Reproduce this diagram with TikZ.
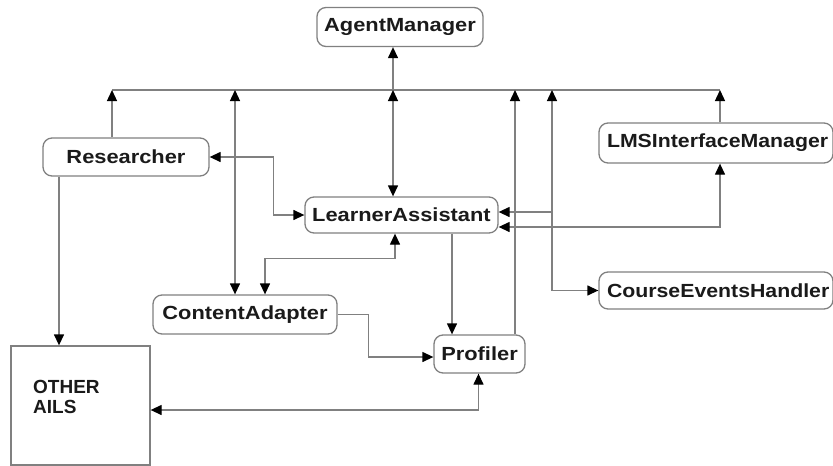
\documentclass[tikz,border=0pt]{standalone}
\usepackage{fontspec}
\setmainfont{Liberation Sans}
\newfontfamily\boxfont{Liberation Sans}[FakeStretch=1.15]
\newfontfamily\edgefont{Liberation Sans}[FakeStretch=1.12]
\usetikzlibrary{arrows.meta,calc}
\definecolor{ln}{HTML}{808080}
\definecolor{tx}{HTML}{1A1A1A}
\tikzset{
  box/.style={draw=ln, line width=1.3pt, rounded corners=9pt, inner sep=0pt, text=tx, font=\boxfont\bfseries\fontsize{19}{22}\selectfont},
  leftbox/.style={box, align=left, text width=#1, inner xsep=8pt, font=\edgefont\bfseries\fontsize{19}{22}\selectfont},
  sqbox/.style={draw=ln, line width=1.3pt, inner sep=0pt},
  plain/.style={inner sep=0pt, text=tx, font=\bfseries\fontsize{19}{22}\selectfont},
  wire/.style={draw=ln, line width=1.3pt},
}
\begin{document}
\begin{tikzpicture}[x=1pt,y=-1pt,>={Triangle[length=11pt,width=10pt,color=black]}]
\useasboundingbox (0,0) rectangle (833,466);
% nodes
\node[box, minimum width=166pt, minimum height=39pt] (am) at (400,27) {AgentManager};
\node[box, minimum width=166pt, minimum height=38pt] (res) at (126,157) {Researcher};
\node[box, minimum width=193pt, minimum height=36pt] (la) at (401.5,215) {LearnerAssistant};
\node[leftbox=218pt, minimum height=40pt] (lms) at (716,143) {LMSInterfaceManager};
\node[box, minimum width=184pt, minimum height=39pt] (ca) at (245,314.5) {ContentAdapter};
\node[box, minimum width=91pt, minimum height=38pt] (pro) at (479.5,354) {Profiler};
\node[leftbox=218pt, minimum height=37pt] (ceh) at (716,290.5) {CourseEventsHandler};
\node[sqbox, minimum width=139pt, minimum height=119pt] (oth) at (80.5,405.5) {};
\node[plain, anchor=base west] (oth1) at (33,393) {OTHER};
\node[plain, anchor=base west] (oth2) at (33,413) {AILS};
% bus
\coordinate (b112) at (112,90);
\coordinate (b235) at (235,90);
\coordinate (b393) at (393,90);
\coordinate (b515) at (515,90);
\coordinate (b552) at (552,90);
\coordinate (b720) at (720,90);
\coordinate (x59) at (59,0);
\coordinate (x452) at (452,0);
\draw[wire] (b112) -- (b720);
\draw[wire,->] (res.north -| b112) -- (b112);
\draw[wire,<->] (b235) -- (ca.north -| b235);
\draw[wire,<->] (b393) -- (la.north -| b393);
\draw[wire,->] (b393) -- (am.south -| b393);
\draw[wire,->] (pro.north -| b515) -- (b515);
\coordinate (c552) at (b552 |- ceh.west);
\draw[wire,->] (c552) -- (b552);
\draw[wire,->] (c552) -- (ceh.west);
\draw[wire,->] (lms.north -| b720) -- (b720);
% LearnerAssistant right side
\coordinate (laE1) at ($(la.east)+(0,-3)$);
\coordinate (laE2) at ($(la.east)+(0,12)$);
\draw[wire,->] (b552 |- laE1) -- (laE1);
\draw[wire,<->] (laE2) -| (lms.south -| b720);
% other connectors
\draw[wire,<->] (res.east) -- ++(64,0) |- (la.west);
\draw[wire,->] (res.south -| x59) -- (oth.north -| x59);
\draw[wire,<->] ($(ca.north)+(20,0)$) |- ($(la.south)+(-6.5,25)$) -- ($(la.south)+(-6.5,0)$);
\draw[wire,->] (la.south -| x452) -- (pro.north -| x452);
\draw[wire,->] (ca.east) -- ++(31,0) |- ($(pro.west)+(0,3)$);
\draw[wire,<->] ($(pro.south)+(-1,0)$) |- ($(oth.east)+(0,4.5)$);
\end{tikzpicture}
\end{document}
